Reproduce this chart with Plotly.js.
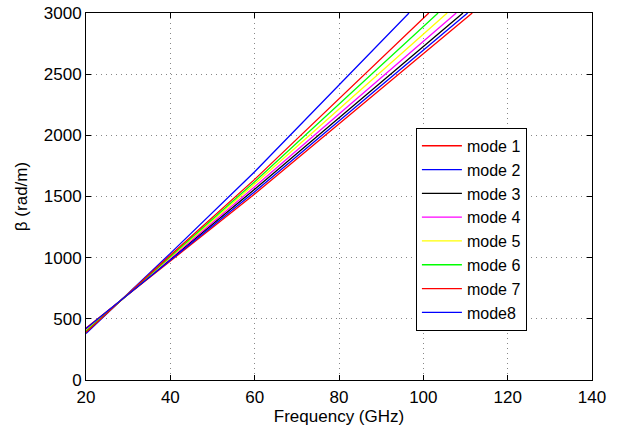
<!DOCTYPE html>
<html>
<head>
<meta charset="utf-8">
<script src="https://cdn.plot.ly/plotly-3.0.1.min.js"></script>
<style>html,body{margin:0;padding:0;background:#fff;}#chart{width:625px;height:429px;}</style>
</head>
<body>
<div id="chart"></div>
<script>
// Frequency (GHz) sample points and β (rad/m)
const modeNames = ["mode 1","mode 2","mode 3","mode 4","mode 5","mode 6","mode 7","mode8"];
const modeColors = ["#ff0000","#0000ff","#000000","#ff00ff","#ffff00","#00ff00","#ff0000","#0000ff"];
const freq1 = [20, 40, 60, 111.6]; const beta1 = [425, 975, 1520, 3000];
const freq2 = [20, 40, 60, 96.6];  const beta2 = [380, 1035, 1703, 3000];
const freq3 = [20, 40, 60, 109.4]; const beta3 = [415, 990, 1559, 3000];
const freq4 = [20, 40, 60, 107.8]; const beta4 = [410, 997, 1580, 3000];
const freq5 = [20, 40, 60, 105.65]; const beta5 = [403, 1005, 1602, 3000];
const freq6 = [20, 40, 60, 103.5]; const beta6 = [397, 1012, 1621, 3000];
const freq7 = [20, 40, 60, 101.3]; const beta7 = [390, 1020, 1640, 3000];
const freq8 = [20, 40, 60, 110.5]; const beta8 = [420, 982, 1539, 3000];
const xTicks = [20, 40, 60, 80, 100, 120, 140];
const yTicks = [0, 500, 1000, 1500, 2000, 2500, 3000];

const freqs = [freq1,freq2,freq3,freq4,freq5,freq6,freq7,freq8];
const betas = [beta1,beta2,beta3,beta4,beta5,beta6,beta7,beta8];
const traces = modeNames.map((n,i)=>({
  x: freqs[i], y: betas[i], name: n, type: 'scatter', mode: 'lines',
  line: {color: modeColors[i], width: 1.3}
}));

const fam = 'Liberation Sans, Arial, Helvetica, sans-serif';
const layout = {
  width: 625, height: 429,
  margin: {l: 86, r: 33, t: 13, b: 49},
  paper_bgcolor: '#fff', plot_bgcolor: '#fff',
  font: {family: fam, size: 17, color: '#000'},
  showlegend: true,
  legend: {x: 0.652, y: 0.687, xanchor: 'left', yanchor: 'top',
           bgcolor: '#fff', bordercolor: '#000', borderwidth: 1,
           font: {family: fam, size: 16, color: '#000'},
           tracegroupgap: 0, itemwidth: 40},
  xaxis: {
    range: [20, 140], tickvals: xTicks, ticktext: xTicks.map(String),
    showline: true, linecolor: '#000', linewidth: 1, mirror: 'ticks',
    ticks: 'inside', ticklen: 5, tickcolor: '#000', ticklabelstandoff: 2,
    showgrid: true, gridcolor: '#888', griddash: '1px,4px', gridwidth: 1,
    zeroline: false, tickfont: {family: fam, size: 17},
    title: {text: 'Frequency (GHz)', font: {family: fam, size: 17}, standoff: 2}
  },
  yaxis: {
    range: [0, 3000], tickvals: yTicks, ticktext: yTicks.map(String),
    showline: true, linecolor: '#000', linewidth: 1, mirror: 'ticks',
    ticks: 'inside', ticklen: 5, tickcolor: '#000',
    showgrid: true, gridcolor: '#888', griddash: '1px,4px', gridwidth: 1,
    zeroline: false, tickfont: {family: fam, size: 17},
    title: {text: 'β (rad/m)', font: {family: fam, size: 17}, standoff: 11}
  }
};
Plotly.newPlot('chart', traces, layout, {displayModeBar: false, staticPlot: true});
</script>
</body>
</html>
